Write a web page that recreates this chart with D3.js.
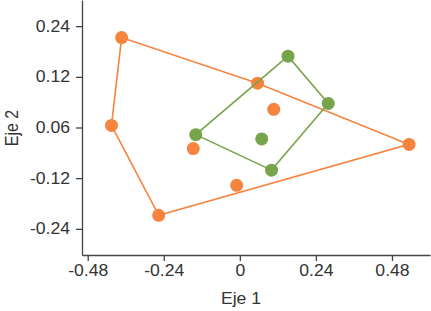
<!DOCTYPE html>
<html>
<head>
<meta charset="utf-8">
<script src="https://cdn.jsdelivr.net/npm/d3@7"></script>
<style>
  body { margin: 0; background: #fff; }
  text { font-family: "Liberation Sans", Arial, sans-serif; }
</style>
</head>
<body>
<svg id="chart" width="431" height="311"></svg>
<script>
// group A (orange) and group B (green) scores on the two axes
const orangeX = [-0.373, -0.405, -0.256, 0.534, 0.056, 0.107, -0.147, -0.010];
const orangeY = [0.213, 0.005, -0.208, -0.040, 0.105, 0.043, -0.050, -0.137];
const greenX = [-0.139, 0.152, 0.279, 0.100, 0.069];
const greenY = [-0.017, 0.169, 0.057, -0.101, -0.027];

const xTicks = [-0.48, -0.24, 0, 0.24, 0.48];
const xTickLabels = ["-0.48", "-0.24", "0", "0.24", "0.48"];
const yTicks = [0.24, 0.12, 0, -0.12, -0.24];
const yTickLabels = ["0.24", "0.12", "0.06", "-0.12", "-0.24"];

const orange = "#f5843f";
const green = "#77a44a";
const sx = 1.1; // text is a bit wide in the original

let svg = d3.select('#chart');
let mLeft = 82, mBottom = 255, mRight = 430, mTop = 0;

let xScale = d3.scaleLinear().domain([-0.498, 0.6]).range([mLeft, mRight]);
let yScale = d3.scaleLinear().domain([-0.302, 0.302]).range([mBottom, mTop]);

let xAxis = svg.append('g')
  .attr("transform", `translate(0, ${mBottom})`)
  .call(d3.axisBottom(xScale).tickValues(xTicks).tickFormat((d, i) => xTickLabels[i]).tickSize(6).tickSizeOuter(0));

let yAxis = svg.append('g')
  .attr("transform", `translate(${mLeft}, 0)`)
  .call(d3.axisLeft(yScale).tickValues(yTicks).tickFormat((d, i) => yTickLabels[i]).tickSize(6).tickSizeOuter(0));

[xAxis, yAxis].forEach(a => {
  a.select('.domain').attr('stroke', '#444').attr('stroke-width', 1.3);
  a.selectAll('.tick line').attr('stroke', '#444').attr('stroke-width', 1.3);
  a.selectAll('.tick text').attr('fill', '#333').style('font-size', '16px')
    .attr('transform', `scale(${sx},1)`);
});
xAxis.selectAll('.tick text').attr('y', 9).attr('dy', '0.75em');
yAxis.selectAll('.tick text').attr('x', -12 / sx);

svg.append('text')
  .attr('transform', `translate(241, 304) scale(${sx},1)`)
  .attr('text-anchor', 'middle')
  .attr('fill', '#333')
  .style('font-size', '16px')
  .text('Eje 1');

svg.append('text')
  .attr('transform', `translate(18, 128) scale(${sx},1) rotate(-90)`)
  .attr('text-anchor', 'middle')
  .attr('fill', '#333')
  .style('font-size', '16px')
  .text('Eje 2');

function drawGroup(xs, ys, color) {
  let pts = xs.map((x, i) => [xScale(x), yScale(ys[i])]);
  let hull = d3.polygonHull(pts);
  svg.append('path')
    .attr('d', 'M' + hull.join('L') + 'Z')
    .attr('fill', 'none')
    .attr('stroke', color)
    .attr('stroke-width', 1.6);
  svg.selectAll(null)
    .data(pts)
    .enter()
    .append('circle')
    .attr('cx', d => d[0])
    .attr('cy', d => d[1])
    .attr('r', 6.5)
    .attr('fill', color);
}

drawGroup(orangeX, orangeY, orange);
drawGroup(greenX, greenY, green);
</script>
</body>
</html>
